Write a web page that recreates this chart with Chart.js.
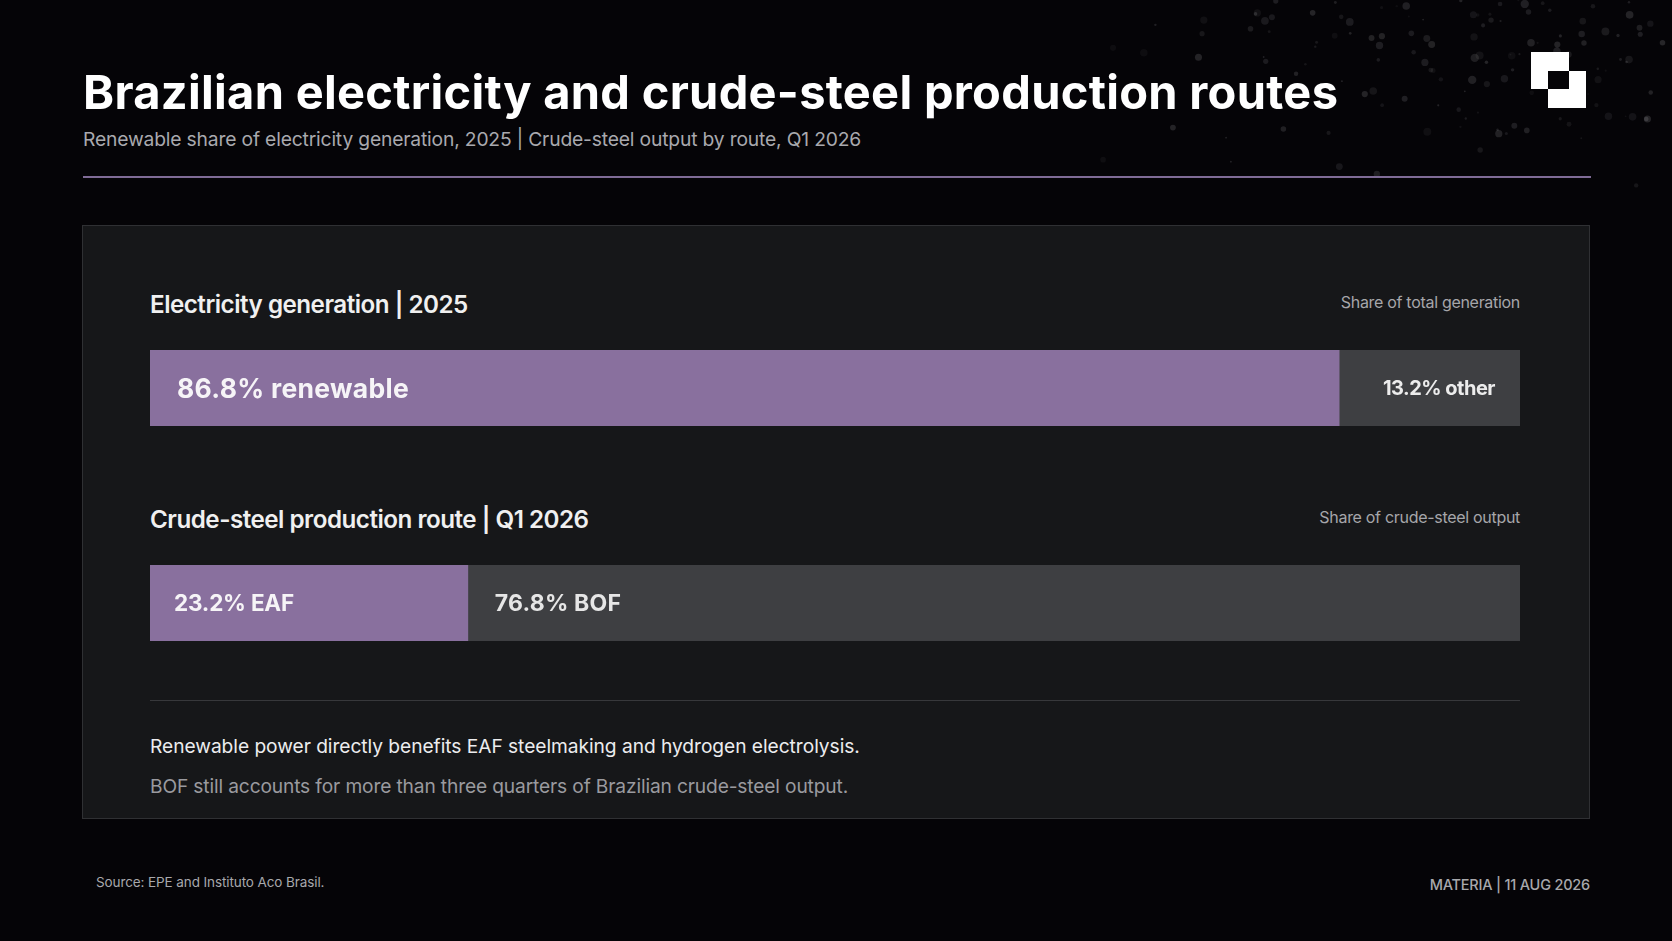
<!DOCTYPE html>
<html>
<head>
<meta charset="utf-8">
<script src="https://cdn.jsdelivr.net/npm/chart.js@4.4.1/dist/chart.umd.min.js"></script>
<style>
  html, body { margin: 0; padding: 0; }
  body { width: 1672px; height: 941px; background: #050407; overflow: hidden; position: relative;
         font-family: Inter, "Noto Sans", sans-serif; color: #f2f2f2; }
  .abs { position: absolute; line-height: 1; white-space: nowrap; }
  #title { left: 83px; top: 67.5px; font-size: 47px; font-weight: 700; color: #ffffff; letter-spacing: 0.3px; }
  #subtitle { left: 83px; top: 130px; font-size: 19.3px; font-weight: 400; color: #a9a9ae; letter-spacing: -0.18px; }
  #rule { left: 83px; top: 176px; width: 1508px; height: 2px; background: #7f6b96; }
  #card { left: 82px; top: 225px; width: 1506px; height: 592px; background: #161719; border: 1px solid #2f3033; }
  .head { left: 150px; font-size: 24.2px; font-weight: 600; color: #f0f0f0; letter-spacing: -0.5px; }
  .note { right: 152px; font-size: 16px; font-weight: 400; color: #a6a6aa; letter-spacing: -0.3px; }
  .bar { position: absolute; left: 150px; width: 1370px; height: 76px; }
  #divider { left: 150px; top: 700px; width: 1370px; height: 1px; background: #37383b; }
  .foot { font-size: 19.2px; left: 150px; letter-spacing: -0.05px; }
  #source { left: 96px; top: 876px; font-size: 13.5px; color: #a8a8ac; letter-spacing: -0.1px; }
  #brand { right: 82px; top: 878px; font-size: 14.5px; font-weight: 500; color: #a8a8ac; letter-spacing: -0.2px; }
  .sq { position: absolute; }
  #speckle { position: absolute; left: 1100px; top: 0; }
</style>
</head>
<body>
<canvas id="speckle" width="572" height="190"></canvas>

<div class="abs" id="title">Brazilian electricity and crude-steel production routes</div>
<div class="abs" id="subtitle">Renewable share of electricity generation, 2025 | Crude-steel output by route, Q1 2026</div>
<div class="abs" id="rule"></div>

<div class="sq" style="left:1531px;top:52px;width:38px;height:37px;background:#fff"></div>
<div class="sq" style="left:1548px;top:71px;width:38px;height:37px;background:#fff"></div>
<div class="sq" style="left:1548px;top:71px;width:21px;height:18px;background:#050407"></div>

<div class="abs" id="card"></div>

<div class="abs head" id="head0" style="top:293px"></div>
<div class="abs note" id="note0" style="top:294px"></div>
<div class="bar" style="top:350px"><canvas id="bar0"></canvas></div>

<div class="abs head" id="head1" style="top:508px"></div>
<div class="abs note" id="note1" style="top:509px"></div>
<div class="bar" style="top:565px"><canvas id="bar1"></canvas></div>

<div class="abs" id="divider"></div>
<div class="abs foot" style="top:737px;color:#ececee">Renewable power directly benefits EAF steelmaking and hydrogen electrolysis.</div>
<div class="abs foot" style="top:777px;color:#9a9a9f;letter-spacing:-0.15px">BOF still accounts for more than three quarters of Brazilian crude-steel output.</div>

<div class="abs" id="source">Source: EPE and Instituto Aco Brasil.</div>
<div class="abs" id="brand">MATERIA | 11 AUG 2026</div>

<script>
// data
var sectionTitles = ['Electricity generation | 2025', 'Crude-steel production route | Q1 2026'];
var sectionNotes = ['Share of total generation', 'Share of crude-steel output'];

var elecLabels = ['renewable', 'other'];
var elecValues = [86.8, 13.2];

var steelLabels = ['EAF', 'BOF'];
var steelValues = [23.2, 76.8];

// styles
var purple = '#89709e';
var grey = '#3e3f42';

document.getElementById('head0').textContent = sectionTitles[0];
document.getElementById('head1').textContent = sectionTitles[1];
document.getElementById('note0').textContent = sectionNotes[0];
document.getElementById('note1').textContent = sectionNotes[1];

// labels drawn inside each bar segment
var segLabels = {
  id: 'segLabels',
  afterDatasetsDraw: function(chart, args, opts) {
    var ctx = chart.ctx;
    chart.data.datasets.forEach(function(ds, i) {
      var el = chart.getDatasetMeta(i).data[0];
      var st = opts.styles[i];
      var left = Math.min(el.base, el.x), right = Math.max(el.base, el.x);
      var txt = ds.data[0].toFixed(1) + '% ' + ds.label;
      ctx.save();
      ctx.font = '700 ' + st.size + 'px Inter, "Noto Sans", sans-serif';
      if ('letterSpacing' in ctx) ctx.letterSpacing = st.ls + 'px';
      ctx.fillStyle = st.color;
      ctx.textBaseline = 'alphabetic';
      var y = el.y + st.size * 0.36;
      if (st.align === 'right') {
        ctx.textAlign = 'right';
        ctx.fillText(txt, right - st.pad, y);
      } else {
        ctx.textAlign = 'left';
        ctx.fillText(txt, left + st.pad, y);
      }
      ctx.restore();
    });
  }
};

function makeBar(id, title, labels, values, styles) {
  return new Chart(document.getElementById(id), {
    type: 'bar',
    data: {
      labels: [title],
      datasets: [
        { label: labels[0], data: [values[0]], backgroundColor: purple, borderWidth: 0 },
        { label: labels[1], data: [values[1]], backgroundColor: grey, borderWidth: 0 }
      ]
    },
    options: {
      indexAxis: 'y',
      responsive: true,
      maintainAspectRatio: false,
      animation: false,
      layout: { padding: 0 },
      barPercentage: 1,
      categoryPercentage: 1,
      scales: {
        x: { stacked: true, min: 0, max: 100, display: false },
        y: { stacked: true, display: false }
      },
      plugins: {
        legend: { display: false },
        tooltip: { enabled: false },
        segLabels: { styles: styles }
      }
    },
    plugins: [segLabels]
  });
}

makeBar('bar0', sectionTitles[0], elecLabels, elecValues, [
  { size: 26.5, ls: 0.3, color: '#f6f4f7', align: 'left', pad: 27 },
  { size: 20, ls: -0.5, color: '#ececec', align: 'right', pad: 25 }
]);
makeBar('bar1', sectionTitles[1], steelLabels, steelValues, [
  { size: 22.5, ls: -0.2, color: '#f6f4f7', align: 'left', pad: 24 },
  { size: 23, ls: 0.2, color: '#e6e6e6', align: 'left', pad: 27 }
]);

// faint speckle texture behind the logo (decoration only)
(function() {
  var c = document.getElementById('speckle');
  var g = c.getContext('2d');
  var s = 12345;
  function rnd() { s = (s * 1103515245 + 12345) % 2147483648; return s / 2147483648; }
  for (var i = 0; i < 320; i++) {
    var x = rnd() * 572, y = rnd() * 190;
    var fade = Math.min(1, (x + 60) / 400) * (1 - y / 210);
    if (rnd() > fade) continue;
    var r = 0.8 + rnd() * 3.4;
    g.fillStyle = 'rgba(200,200,205,' + (0.05 + rnd() * 0.12) + ')';
    g.beginPath(); g.arc(x, y, r, 0, Math.PI * 2); g.fill();
  }
})();
</script>
</body>
</html>
